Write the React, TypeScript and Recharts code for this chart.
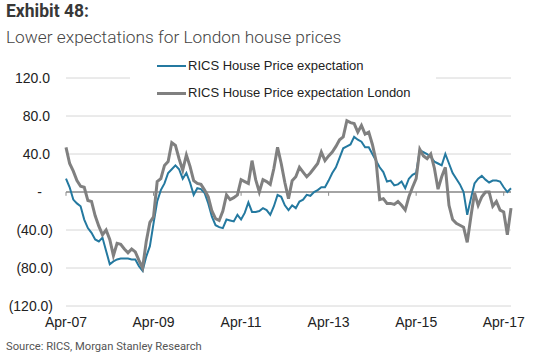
import React from 'react';
import { LineChart, Line, XAxis, YAxis, CartesianGrid, ReferenceLine } from 'recharts';

// monthly, Apr-07 .. Jun-17
const monthNames = ['Jan', 'Feb', 'Mar', 'Apr', 'May', 'Jun', 'Jul', 'Aug', 'Sep', 'Oct', 'Nov', 'Dec'];
const months: string[] = [];
for (let k = 0; k < 123; k++) {
    const m = (3 + k) % 12;
    const yr = 7 + Math.floor((3 + k) / 12);
    months.push(`${monthNames[m]}-${String(yr).padStart(2, '0')}`);
}

const ukExpectation = [
    14, 5, -8, -12, -15, -29, -38, -43, -50, -52, -48, -62, -76, -73, -71, -70, -70, -70, -71, -71,
    -78, -83, -68, -57, -33, -10, 2, 9, 20, 24, 28, 24, 14, 20, 10, -3, 4, 3, -1, -12,
    -26, -35, -37, -38, -29, -30, -31, -24, -29, -22, -11, -21, -21, -20, -17, -19, -24, -15, -3, -5,
    -14, -19, -14, -17, -10, -8, -3, -4, 0, 2, 5, 5, 12, 20, 26, 36, 46, 48, 50, 58,
    55, 53, 47, 47, 40, 33, 26, 21, 11, 12, 7, 8, 11, 4, 14, 18, 20, 44, 42, 40,
    37, 32, 30, 28, 40, 30, 20, 14, 8, 0, -24, -7, 9, 14, 17, 13, 10, 12, 12, 11,
    5, 0, 4,
];

const londonExpectation = [
    47, 30, 22, 12, 6, 5, -9, -10, -25, -36, -45, -40, -50, -67, -54, -55, -60, -64, -60, -63,
    -72, -80, -52, -32, -26, 11, 14, 28, 32, 52, 49, 35, 23, 39, 27, 12, 9, 8, 2, -5,
    -20, -28, -30, -20, -3, -8, -6, -3, 13, 11, 9, 33, 13, 0, 13, 11, 8, 25, 47, 30,
    10, -7, 12, 16, 26, 21, 16, 20, 25, 30, 42, 33, 38, 42, 48, 55, 58, 75, 73, 72,
    63, 70, 61, 63, 50, 33, -8, -7, -12, -12, -13, -10, -14, -19, -5, 5, 14, 45, 38, 35,
    40, 25, 3, 16, 26, -14, -29, -33, -35, -37, -53, -26, -1, -14, -5, 0, 0, -15, -10, -19,
    -21, -45, -17,
];

const yTicks = [-120, -80, -40, 0, 40, 80, 120];
const xTickEvery = 24;

const data = months.map((month, i) => ({
    month,
    uk: ukExpectation[i],
    london: londonExpectation[i],
}));

const BLUE = '#2479a0';
const GREY = '#808080';

const fmtY = (v: number) => (v === 0 ? '-' : v < 0 ? `(${Math.abs(v).toFixed(1)})` : v.toFixed(1));

const YTick = (props: any) => {
    const { x, y, payload } = props;
    const v = payload.value;
    // accounting style alignment: brackets hang right, dash sits in the middle
    const shift = v < 0 ? 0 : v === 0 ? -11 : -3;
    return (
        <text x={x + shift} y={y} dy="0.355em" textAnchor="end" fill="#222" fontSize={14} fontFamily="'Liberation Sans', Arial, sans-serif">
            {fmtY(v)}
        </text>
    );
};

export default function App() {
    return (
        <div style={{ position: 'absolute', left: 0, top: 0, width: 535, height: 355, background: '#fff', overflow: 'hidden' }}>
            <div style={{ position: 'absolute', left: 6, top: 1, fontFamily: 'Roboto, sans-serif', fontWeight: 700, fontSize: 17.5, color: '#383838' }}>
                Exhibit 48:
            </div>
            <div style={{ position: 'absolute', left: 6, top: 27, fontFamily: 'Roboto, sans-serif', fontWeight: 300, fontSize: 17.3, color: '#444', whiteSpace: 'nowrap' }}>
                Lower expectations for London house prices
            </div>

            <LineChart width={535} height={355} data={data} margin={{ top: 78, right: 24, bottom: 19, left: 0 }}>
                <CartesianGrid vertical={false} stroke="#d6d6d6" strokeWidth={1} />
                <XAxis
                    dataKey="month"
                    interval={xTickEvery - 1}
                    axisLine={false}
                    tickLine={false}
                    tickSize={0}
                    tickMargin={11}
                    height={30}
                    tick={{ fill: '#222', fontSize: 14, fontFamily: "'Liberation Sans', Arial, sans-serif" }}
                />
                <YAxis
                    domain={[-120, 120]}
                    ticks={yTicks}
                    axisLine={false}
                    tickLine={false}
                    tickSize={0}
                    tickMargin={13}
                    width={66}
                    tick={<YTick />}
                />
                <ReferenceLine y={0} stroke="#8c8c8c" strokeWidth={1.5} />
                {months.map((m, i) =>
                    i % xTickEvery === 0 ? (
                        <ReferenceLine
                            key={m}
                            segment={[{ x: m, y: 0 }, { x: m, y: -4 }]}
                            stroke="#8c8c8c"
                            strokeWidth={1}
                        />
                    ) : null
                )}
                <Line type="linear" dataKey="uk" stroke={BLUE} strokeWidth={2} dot={false} isAnimationActive={false} />
                <Line type="linear" dataKey="london" stroke={GREY} strokeWidth={3} dot={false} isAnimationActive={false} />
            </LineChart>

            {/* legend box sits over the top gridline */}
            <div style={{ position: 'absolute', left: 130, top: 55, width: 306, height: 50, background: '#fff', fontFamily: "'Liberation Sans', Arial, sans-serif", fontSize: 13, color: '#222' }}>
                <div style={{ position: 'absolute', left: 27, top: 10, width: 29, height: 2, background: BLUE }} />
                <div style={{ position: 'absolute', left: 58, top: 3, whiteSpace: 'nowrap' }}>RICS House Price expectation</div>
                <div style={{ position: 'absolute', left: 27, top: 37, width: 29, height: 3, background: GREY }} />
                <div style={{ position: 'absolute', left: 58, top: 30, whiteSpace: 'nowrap' }}>RICS House Price expectation London</div>
            </div>

            <div style={{ position: 'absolute', left: 6, top: 340, fontFamily: 'Roboto, sans-serif', fontSize: 11.2, color: '#555', whiteSpace: 'nowrap' }}>
                Source: RICS, Morgan Stanley Research
            </div>
        </div>
    );
}
